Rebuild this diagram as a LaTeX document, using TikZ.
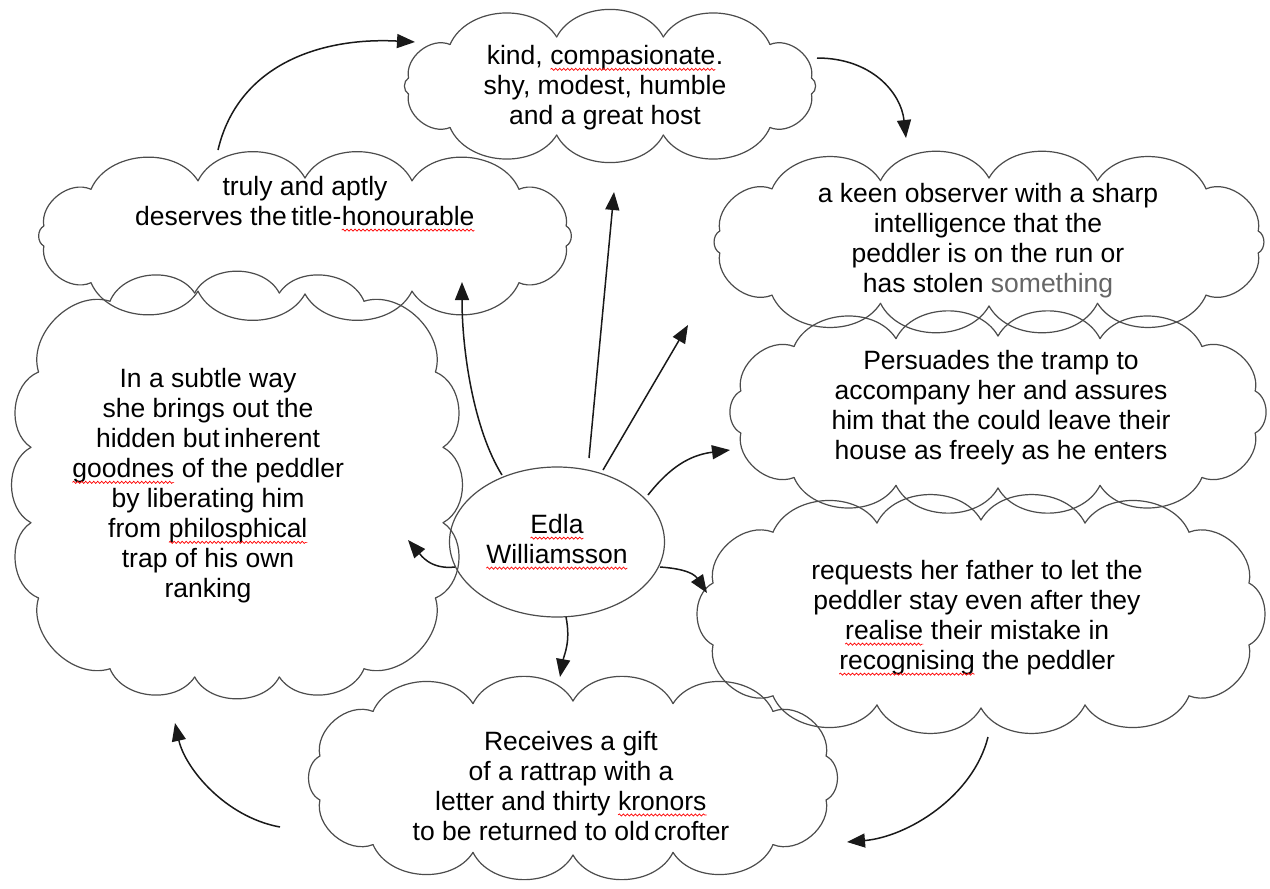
\documentclass[tikz,border=0pt]{standalone}
\usepackage{fontspec}
\setmainfont{Liberation Sans}
\usetikzlibrary{shapes.geometric,arrows.meta,calc,decorations.pathmorphing}
\newcommand\sqw[1]{\tikz[baseline=(sqwt.base)]{\node[shape=rectangle, draw=none, fill=none,
  inner sep=0pt, outer sep=0pt, minimum width=0pt, minimum height=0pt, anchor=base] (sqwt) at (0,0) {#1};
  \draw[draw=red, line width=0.7pt, -, decorate, decoration={snake, amplitude=1.1pt, segment length=4pt}]
  ([yshift=-4.5pt]sqwt.base west) -- ([yshift=-4.5pt]sqwt.base east);}}
% puffy outline round a named area node:
% #1 name, #2 half width, #3 half height, #4 corner inset, #5 puffs on top/bottom, #6 puffs per side, #7 bow
\newcommand\puffcloud[7]{%
  \foreach \i in {1,...,#5}{%
    \pgfmathsetmacro\xa{-#2+#4+(\i-1)*2*(#2-#4)/#5}%
    \pgfmathsetmacro\xb{-#2+#4+\i*2*(#2-#4)/#5}%
    \pgfmathsetmacro\ya{#3+#7*(1-(\xa/#2)*(\xa/#2))}%
    \pgfmathsetmacro\yb{#3+#7*(1-(\xb/#2)*(\xb/#2))}%
    \pgfmathsetmacro\xc{0-(\xa)}%
    \pgfmathsetmacro\xd{0-(\xb)}%
    \draw[cloudstroke] ($(#1.center)+(\xa,0-\ya)$) to[bend left=62] ($(#1.center)+(\xb,0-\yb)$);
    \draw[cloudstroke] ($(#1.center)+(\xc,\ya)$) to[bend left=62] ($(#1.center)+(\xd,\yb)$);
  }%
  \foreach \i in {1,...,#6}{%
    \pgfmathsetmacro\ya{-#3+#4+(\i-1)*2*(#3-#4)/#6}%
    \pgfmathsetmacro\yb{-#3+#4+\i*2*(#3-#4)/#6}%
    \pgfmathsetmacro\xa{#2+#7*(1-(\ya/#3)*(\ya/#3))}%
    \pgfmathsetmacro\xb{#2+#7*(1-(\yb/#3)*(\yb/#3))}%
    \pgfmathsetmacro\yc{0-(\ya)}%
    \pgfmathsetmacro\yd{0-(\yb)}%
    \draw[cloudstroke] ($(#1.center)+(\xa,\ya)$) to[bend left=62] ($(#1.center)+(\xb,\yb)$);
    \draw[cloudstroke] ($(#1.center)+(0-\xa,\yc)$) to[bend left=62] ($(#1.center)+(0-\xb,\yd)$);
  }%
  \pgfmathsetmacro\cx{#2-#4}%
  \pgfmathsetmacro\cy{#3+#7*(1-(\cx/#2)*(\cx/#2))}%
  \pgfmathsetmacro\sy{#3-#4}%
  \pgfmathsetmacro\sx{#2+#7*(1-(\sy/#3)*(\sy/#3))}%
  \draw[cloudstroke] ($(#1.center)+(\cx,0-\cy)$) to[bend left=62] ($(#1.center)+(\sx,0-\sy)$);
  \draw[cloudstroke] ($(#1.center)+(\sx,\sy)$) to[bend left=62] ($(#1.center)+(\cx,\cy)$);
  \draw[cloudstroke] ($(#1.center)+(0-\cx,\cy)$) to[bend left=62] ($(#1.center)+(0-\sx,\sy)$);
  \draw[cloudstroke] ($(#1.center)+(0-\sx,0-\sy)$) to[bend left=62] ($(#1.center)+(0-\cx,0-\cy)$);
}
\begin{document}
\begin{tikzpicture}[x=1pt,y=-1pt,
  cloudarea/.style={shape=rectangle, draw=none, inner sep=0pt},
  cloudstroke/.style={draw=black!70, line width=1.2pt, line cap=round},
  txt/.style={align=center, font=\fontsize{26.5}{30}\selectfont, inner sep=0pt},
  arr/.style={line width=1.5pt, draw=black!90, -{Triangle[length=18pt,width=14pt]}}]
\useasboundingbox (0,0) rectangle (1270,889);
\fill[white] (0,0) rectangle (1270,889);

% clouds
\node[cloudarea, minimum width=415pt, minimum height=157pt] (c1) at (610,86) {};
\node[cloudarea, minimum width=535pt, minimum height=172pt] (c2) at (305,236) {};
\node[cloudarea, minimum width=552pt, minimum height=185pt] (c3) at (989,242) {};
\node[cloudarea, minimum width=540pt, minimum height=205pt] (c4) at (998,412) {};
\node[cloudarea, minimum width=573pt, minimum height=242pt] (c5) at (981,614) {};
\node[cloudarea, minimum width=455pt, minimum height=430pt] (c6) at (237,485) {};
\node[cloudarea, minimum width=533pt, minimum height=207pt] (c7) at (573,778) {};
\puffcloud{c1}{190}{38}{30}{3}{1}{12}
\puffcloud{c2}{247}{43}{33}{4}{1}{15}
\puffcloud{c3}{255}{49}{38}{4}{1}{15}
\puffcloud{c4}{244}{61}{40}{4}{1}{15}
\puffcloud{c5}{253}{76}{45}{4}{1}{18}
\puffcloud{c6}{187}{173}{60}{3}{3}{20}
\puffcloud{c7}{240}{62}{40}{4}{1}{15}

% texts
\node[txt] (t1) at (605,88) {kind, \sqw{compasionate}.\\shy, modest, humble\\and a great host};
\node[txt] (t2) at (305,204) {truly and aptly\\deserves the\,title-\sqw{honourable}};
\node[txt] (t3) at (988,241) {a keen observer with a sharp\\intelligence that the\\peddler is on the run or\\has stolen \textcolor{black!60}{something}};
\node[txt] (t4) at (1001,408) {Persuades the tramp to\\accompany her and assures\\him that the could leave their\\house as freely as he enters};
\node[txt] (t5) at (977,618) {requests her father to let the\\peddler stay even after they\\\sqw{realise} their mistake in\\\sqw{recognising} the peddler};
\node[txt] (t6) at (208,486) {In a subtle way\\she brings out the\\hidden but\,inherent\\\sqw{goodnes} of the peddler\\by liberating him\\from \sqw{philosphical}\\trap of his own\\ranking};
\node[txt] (t7) at (571,786) {Receives a gift\\of a rattrap with a\\letter and thirty \sqw{kronors}\\to be returned to old\,crofter};

% centre
\node[ellipse, draw=black!70, line width=1.2pt, minimum width=215pt, minimum height=150pt, txt] (e) at (557,542) {\sqw{Edla}\\\sqw{Williamsson}};

% connectors
\draw[arr] ($(c2.center)+(-87,-86)$) .. controls +(20,-85) and +(-95,-5) .. ($(c1.center)+(-195,-44)$);
\draw[arr] ($(c1.center)+(207,-28)$) .. controls +(55,0) and +(-5,-45) .. ($(c3.center)+(-83,-104)$);
\draw[arr] ($(e.center)+(32,-84)$) -- ($(c1.center)+(4,106)$);
\draw[arr] ($(e.center)+(46,-72)$) -- ($(c3.center)+(-301,83)$);
\draw[arr] ($(e.center)+(-55,-67)$) .. controls +(-28,-45) and +(0,70) .. ($(c2.center)+(157,46)$);
\draw[arr] ($(e.center)+(91,-47)$) .. controls +(22,-28) and +(-40,5) .. ($(c4.center)+(-268,38)$);
\draw[arr] ($(e.center)+(103,25)$) .. controls +(28,2) and +(-12,-18) .. ($(c5.center)+(-274,-21)$);
\draw[arr] ($(e.center)+(9,75)$) .. controls +(5,25) and +(4,-22) .. ($(c7.center)+(-13,-101)$);
\draw[arr] ($(e.center)+(-102,25)$) .. controls +(-25,3) and +(12,14) .. ($(c6.center)+(171,55)$);
\draw[arr] ($(c5.center)+(7,123)$) .. controls +(-15,60) and +(60,-5) .. ($(c7.center)+(274,64)$);
\draw[arr] ($(c7.center)+(-293,49)$) .. controls +(-55,-10) and +(10,45) .. ($(c6.center)+(-62,238)$);
\end{tikzpicture}
\end{document}
